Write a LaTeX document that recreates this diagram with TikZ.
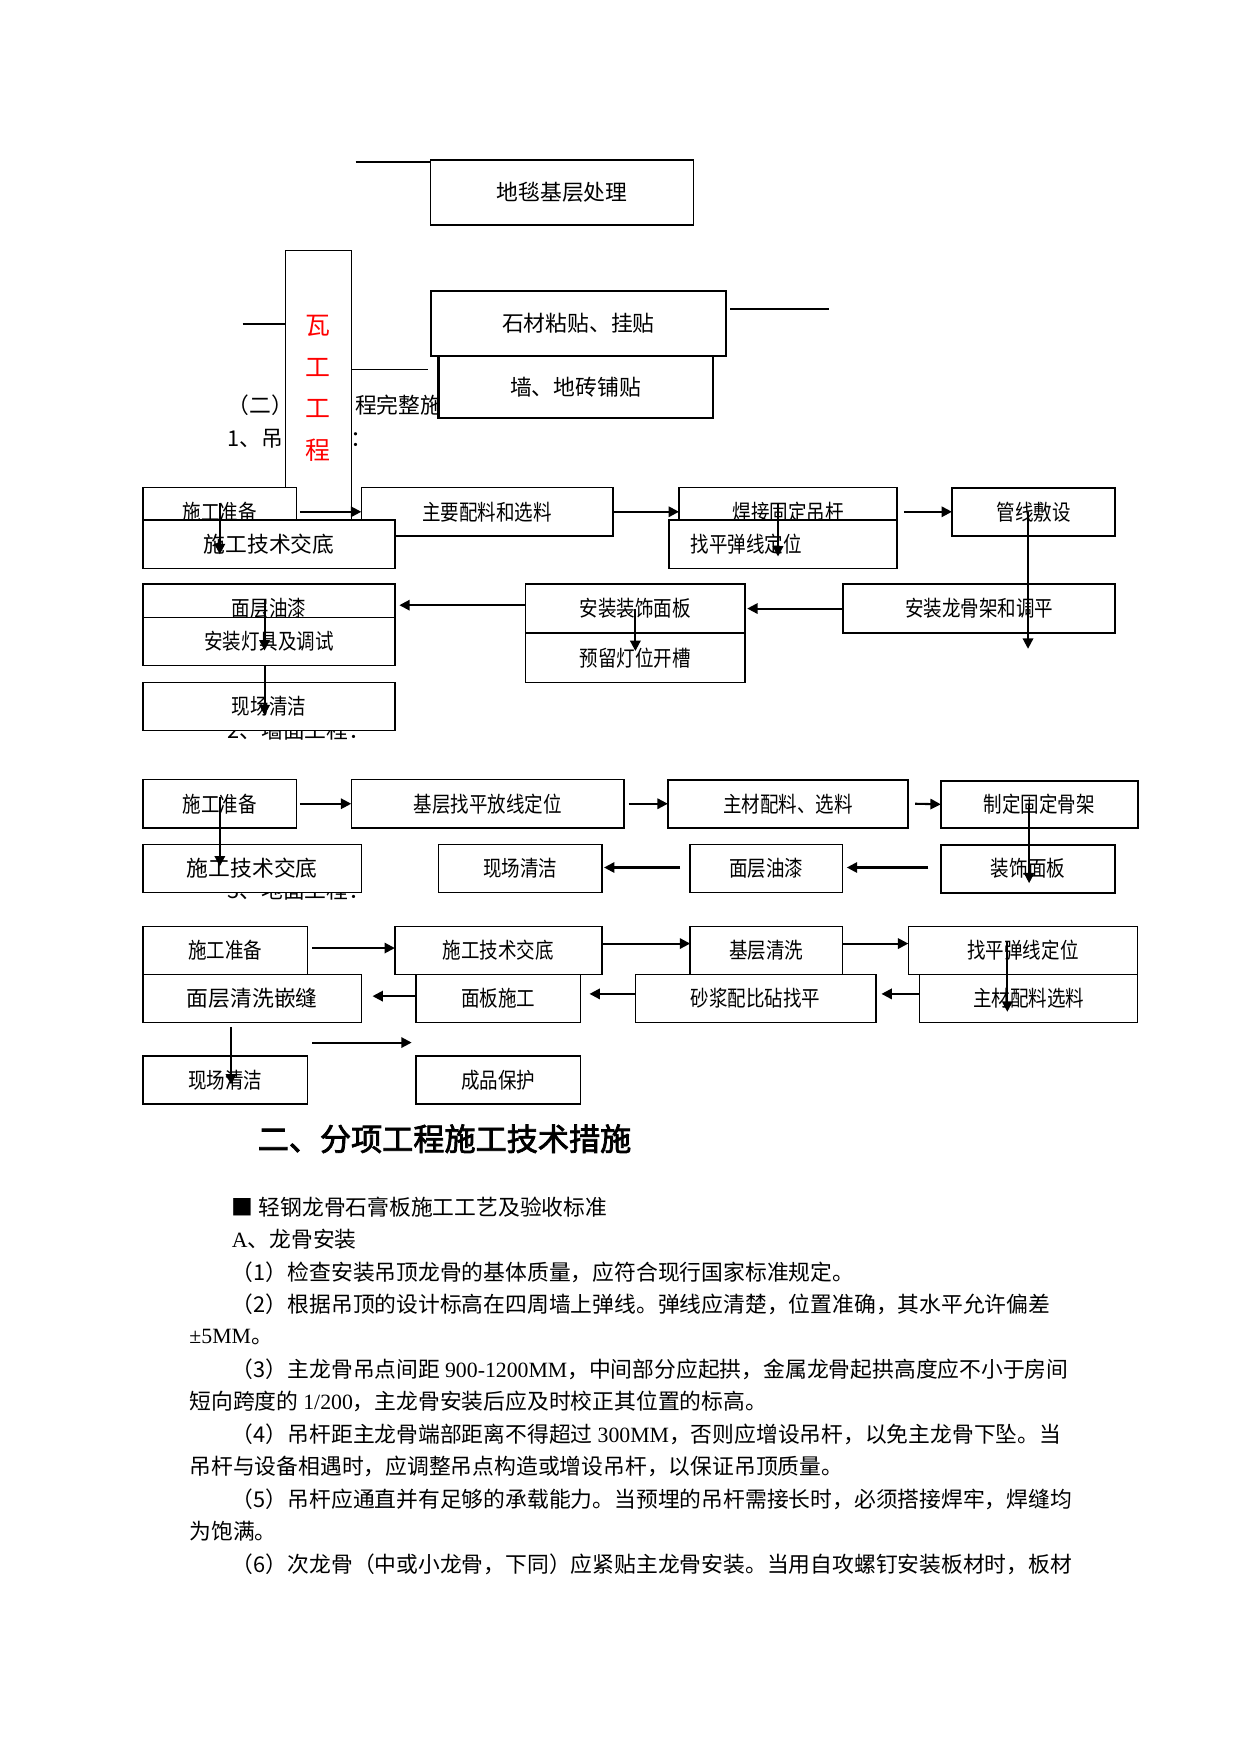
\documentclass[tikz,border=0pt]{standalone}
\usepackage{fontspec}
\setmainfont{Noto Sans CJK SC}
\newfontfamily\latfont{Liberation Serif}
\newfontfamily\narrowcjk[FakeStretch=0.85]{Noto Sans CJK SC}
\newfontfamily\headfont[FakeBold=2.5]{Noto Sans CJK SC}
\usetikzlibrary{arrows.meta,calc}
\newlength\px
\setlength\px{0.539pt}

\begin{document}
\begin{tikzpicture}[
  x=0.539pt, y=-0.539pt,
  box/.style={draw, fill=white, line width=0.7pt, anchor=north west,
              inner sep=0pt, outer sep=0pt, minimum height=43\px,
              font=\fontsize{10.5}{12}\narrowcjk},
  wide/.style={box, font=\fontsize{10.5}{12}\selectfont},
  arr/.style={-{Triangle[length=5pt,width=5pt]}, line width=1pt},
  para/.style={anchor=west, inner sep=0pt, font=\fontsize{10.5}{12}\selectfont}
]
\fill[white] (0,0) rectangle (1109,1568);
\useasboundingbox (0,0) rectangle (1109,1568);

% top part
\node[wide, minimum width=235\px, minimum height=58\px] (ditan) at (385,143) {地毯基层处理};
\node[para] (er1) at (203,362) {（二）};
\node[para] (er2) at (317,362) {程完整施};
\node[para] (yi1) at (203,392) {1、吊};
\node[para] (yi2) at (313,393) {：};
\node[box, minimum width=59\px, minimum height=246\px, text=red, align=center,
      font=\fontsize{12}{20}\selectfont] (wagong) at (255,224) {瓦\\工\\工\\程};
\node[wide, minimum width=264\px, minimum height=58\px, line width=1pt] (shicai) at (385,260) {石材粘贴、挂贴};
\node[wide, minimum width=245\px, minimum height=56\px, line width=1pt] (qiangzhuan) at (392,318) {墙、地砖铺贴};

\coordinate (t1) at (318,145);
\coordinate (t2) at (217,290);
\coordinate (t3) at (383,330);
\coordinate (t4) at (741,276);
\draw[line width=1.2pt] (t1) -- (t1 -| ditan.west);
\draw[line width=1pt] (t2) -- (t2 -| wagong.west);
\draw[line width=0.6pt] (wagong.east |- t3) -- (t3);
\draw[line width=0.8pt] ($(shicai.east |- t4)+(4,0)$) -- (t4);

% 1. ceiling
\node[box, minimum width=137\px] (dd1) at (128,436) {施工准备};
\node[box, minimum width=225\px] (dd2) at (323,436) {主要配料和选料};
\node[box, minimum width=195\px] (dd3) at (607,436) {焊接固定吊杆};
\node[box, minimum width=146\px, line width=1pt] (dd4) at (851,436) {管线敷设};
\node[wide, minimum width=225\px] (dd5) at (128,465) {施工技术交底};
\node[box, minimum width=204\px] (dd6) at (598,465) {找平弹线定位\hspace*{66\px}};

\node[box, minimum width=225\px, minimum height=44\px] (dd7) at (128,522) {面层油漆};
\node[box, minimum width=225\px] (dd8) at (128,552) {安装灯具及调试};
\node[box, minimum width=196\px, minimum height=44\px] (dd9) at (470,522) {安装装饰面板};
\node[box, minimum width=196\px, minimum height=44\px] (dd10) at (470,566) {预留灯位开槽};
\node[box, minimum width=243\px, minimum height=44\px, line width=1pt] (dd11) at (754,522) {安装龙骨架和调平};
\node[para] (san) at (203,653) {2、墙面工程：};
\node[box, minimum width=225\px] (dd12) at (128,610) {现场清洁};

\draw[arr] ($(dd1.east)+(3,0)$) -- (dd2.west);
\draw[arr] (dd2.east) -- (dd3.west);
\draw[arr] ($(dd3.east)+(6,0)$) -- (dd4.west);
\draw[arr] ($(dd1.center)+(0,-8)$) -- ($(dd1.center |- dd5.center)+(0,9)$);
\draw[arr] ($(dd3.center)+(-9,-8)$) -- ($(dd3.center |- dd6.center)+(-9,11)$);
\draw[arr] ($(dd4.center)+(-5,0)$) -- ($(dd4.center |- dd11.south)+(-5,14)$);
\draw[arr] (dd11.west) -- ($(dd9.east)+(2,0)$);
\draw[arr] ($(dd9.west)+(0,-3)$) -- ($(dd7.east)+(4,-3)$);
\draw[arr] ($(dd7.center)+(-4,-8)$) -- ($(dd7.center |- dd8.center)+(-4,8)$);
\draw[arr] ($(dd8.south)+(-4,0)$) -- ($(dd12.center)+(-4,8)$);
\draw[arr] (dd9.center) -- ($(dd10.center)+(0,-6)$);

% 2. walls
\node[box, minimum width=137\px] (qm1) at (128,697) {施工准备};
\node[box, minimum width=244\px] (qm2) at (314,697) {基层找平放线定位};
\node[box, minimum width=215\px, line width=1pt] (qm3) at (597,697) {主材配料、选料};
\node[box, minimum width=176\px, minimum height=42\px, line width=1pt] (qm4) at (841,698) {制定固定骨架};
\node[para] (si) at (203,796) {3、地面工程：};
\node[wide, minimum width=195\px] (qm5) at (128,755) {施工技术交底};
\node[box, minimum width=146\px] (qm6) at (392,755) {现场清洁};
\node[box, minimum width=136\px] (qm7) at (617,755) {面层油漆};
\node[box, minimum width=156\px, line width=1pt] (qm8) at (841,755) {装饰面板};

\draw[arr] ($(qm1.east)+(3,0)$) -- (qm2.west);
\draw[arr] ($(qm2.east)+(4,0)$) -- (qm3.west);
\draw[arr] ($(qm3.east)+(6,0)$) -- (qm4.west);
\draw[arr] ($(qm8.west)+(-11,-1)$) -- ($(qm7.east)+(4,-1)$);
\draw[arr] ($(qm7.west)+(-9,-1)$) -- ($(qm6.east)+(2,-1)$);
\draw[arr] ($(qm1.center)+(0,-6)$) -- ($(qm1.center |- qm5.center)+(0,-2)$);
\draw[arr] ($(qm4.center)+(-9,0)$) -- ($(qm4.center |- qm8.center)+(-9,13)$);

% 3. floors
\node[box, minimum width=147\px] (dm1) at (128,828) {施工准备};
\node[box, minimum width=185\px] (dm2) at (353,828) {施工技术交底};
\node[box, minimum width=136\px] (dm3) at (617,828) {基层清洗};
\node[box, minimum width=205\px] (dm4) at (812,828) {找平弹线定位};
\node[wide, minimum width=195\px] (dm5) at (128,871) {面层清洗嵌缝};
\node[box, minimum width=147\px] (dm6) at (372,871) {面板施工};
\node[box, minimum width=215\px] (dm7) at (568,871) {砂浆配比砧找平};
\node[box, minimum width=195\px] (dm8) at (822,871) {主材配料选料};
\node[box, minimum width=147\px] (dm9) at (128,944) {现场清洁};
\node[box, minimum width=147\px] (dm10) at (372,944) {成品保护};

\draw[arr] ($(dm1.east)+(4,-2)$) -- ($(dm2.west)+(0,-2)$);
\draw[arr] ($(dm2.east)+(0,-6)$) -- ($(dm3.west)+(0,-6)$);
\draw[arr] ($(dm3.east)+(0,-6)$) -- ($(dm4.west)+(0,-6)$);
\draw[arr] ($(dm6.west)+(0,-2)$) -- ($(dm5.east)+(10,-2)$);
\draw[arr] ($(dm7.west)+(0,-4)$) -- ($(dm6.east)+(8,-4)$);
\draw[arr] ($(dm8.west)+(0,-4)$) -- ($(dm7.east)+(5,-4)$);
\draw[arr] ($(dm4.center)+(-14,-7)$) -- ($(dm4.center |- dm8.center)+(-14,12)$);
\draw[arr] ($(dm5.south)+(-19,4)$) -- ($(dm5.south |- dm9.center)+(-19,4)$);
\draw[arr] ($(dm9.north east)+(4,-12)$) -- ($(dm10.north west)+(-4,-12)$);

% text below
\node[anchor=west, inner sep=0pt, font=\fontsize{15}{18}\headfont] (title) at (230,1018) {二、分项工程施工技术措施};
\node[para] (l1) at (207,1079) {■ 轻钢龙骨石膏板施工工艺及验收标准};
\node[para] (l2) at (207,1108) {{\latfont A}、龙骨安装};
\node[para] (l3) at (207,1137) {（1）检查安装吊顶龙骨的基体质量，应符合现行国家标准规定。};
\node[para] (l4) at (207,1166) {（2）根据吊顶的设计标高在四周墙上弹线。弹线应清楚，位置准确，其水平允许偏差};
\node[para] (l5) at (169,1195) {{\latfont ±5MM}。};
\node[para] (l6) at (207,1224) {（3）主龙骨吊点间距 {\latfont 900-1200MM}，中间部分应起拱，金属龙骨起拱高度应不小于房间};
\node[para] (l7) at (169,1253) {短向跨度的 {\latfont 1/200}，主龙骨安装后应及时校正其位置的标高。};
\node[para] (l8) at (207,1282) {（4）吊杆距主龙骨端部距离不得超过 {\latfont 300MM}，否则应增设吊杆，以免主龙骨下坠。当};
\node[para] (l9) at (169,1311) {吊杆与设备相遇时，应调整吊点构造或增设吊杆，以保证吊顶质量。};
\node[para] (l10) at (207,1340) {（5）吊杆应通直并有足够的承载能力。当预埋的吊杆需接长时，必须搭接焊牢，焊缝均};
\node[para] (l11) at (169,1369) {为饱满。};
\node[para] (l12) at (207,1398) {（6）次龙骨（中或小龙骨，下同）应紧贴主龙骨安装。当用自攻螺钉安装板材时，板材};
\end{tikzpicture}
\end{document}
